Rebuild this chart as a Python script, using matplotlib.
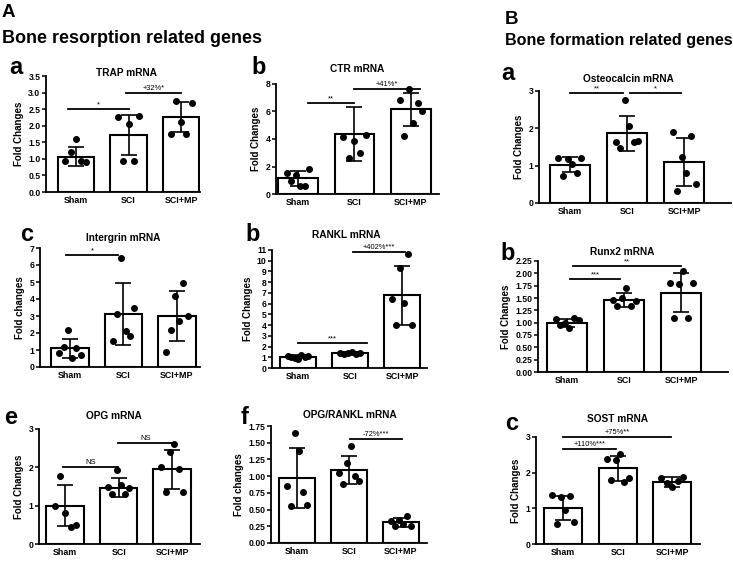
import matplotlib.pyplot as plt
import numpy as np

plt.rcParams['font.family'] = ['Liberation Sans', 'DejaVu Sans']

groups = ["Sham", "SCI", "SCI+MP"]

# ---- data (mean, SD, individual points) ----
trap_mean = [1.07, 1.72, 2.27]
trap_sd = [0.29, 0.61, 0.46]
trap_pts = [[0.93, 1.2, 1.6, 0.95, 0.92],
            [2.25, 0.93, 2.05, 0.93, 2.3],
            [1.75, 2.75, 2.12, 1.75, 2.7]]

ctr_mean = [1.15, 4.35, 6.15]
ctr_sd = [0.55, 1.97, 1.2]
ctr_pts = [[1.52, 0.95, 1.35, 0.55, 0.55, 1.82],
           [4.15, 2.65, 3.85, 2.95, 4.3],
           [6.85, 4.25, 7.6, 5.15, 6.6, 6.05]]

osteo_mean = [1.02, 1.87, 1.1]
osteo_sd = [0.2, 0.47, 0.65]
osteo_pts = [[1.2, 0.73, 1.18, 1.05, 0.8, 1.2],
             [1.63, 1.48, 2.76, 2.05, 1.63, 1.65],
             [1.9, 0.33, 1.22, 0.8, 1.8, 0.5]]

integ_mean = [1.1, 3.12, 3.02]
integ_sd = [0.57, 1.82, 1.47]
integ_pts = [[0.85, 1.2, 2.15, 0.55, 1.1, 0.68],
             [1.55, 3.1, 6.4, 2.1, 1.8, 3.5],
             [0.9, 2.2, 4.15, 2.7, 4.95, 3.0]]

rankl_mean = [1.05, 1.38, 6.8]
rankl_sd = [0.13, 0.1, 2.75]
rankl_pts = [[1.08, 1.05, 0.95, 0.85, 1.2, 1.0, 1.1],
             [1.4, 1.35, 1.38, 1.45, 1.35, 1.4],
             [6.45, 4.0, 9.3, 6.05, 10.6, 4.0]]

runx2_mean = [1.0, 1.46, 1.61]
runx2_sd = [0.08, 0.14, 0.4]
runx2_pts = [[1.08, 0.95, 1.0, 0.9, 1.1, 1.05],
             [1.45, 1.33, 1.5, 1.7, 1.33, 1.43],
             [1.8, 1.1, 1.78, 2.05, 1.1, 1.8]]

opg_mean = [1.0, 1.47, 1.95]
opg_sd = [0.53, 0.25, 0.51]
opg_pts = [[0.98, 1.77, 0.8, 0.45, 0.49],
           [1.5, 1.3, 1.93, 1.55, 1.3, 1.45],
           [2.02, 1.35, 2.4, 2.6, 1.95, 1.35]]

ratio_mean = [0.97, 1.09, 0.31]
ratio_sd = [0.45, 0.21, 0.07]
ratio_pts = [[0.85, 0.55, 1.65, 1.38, 0.77, 0.57],
             [1.05, 0.88, 1.2, 1.45, 1.0, 0.93],
             [0.33, 0.25, 0.35, 0.28, 0.4, 0.25]]

sost_mean = [1.01, 2.12, 1.75]
sost_sd = [0.33, 0.34, 0.14]
sost_pts = [[1.36, 0.55, 1.33, 0.95, 1.34, 0.62],
            [2.38, 1.8, 2.35, 2.53, 1.75, 1.85],
            [1.85, 1.7, 1.6, 1.78, 1.88]]

# significance bars: (x start, x end, y, label)
trap_sig = [(-0.15, 1.0, 2.5, "*"), (0.95, 2.0, 3.0, "+32%*")]
ctr_sig = [(0.18, 1.0, 6.6, "**"), (0.99, 2.16, 7.65, "+41%*")]
osteo_sig = [(0.0, 0.93, 2.94, "**"), (1.05, 1.95, 2.94, "*")]
integ_sig = [(-0.07, 0.9, 6.6, "*")]
rankl_sig = [(0.0, 1.33, 2.3, "***"), (1.06, 2.06, 10.85, "+402%***")]
runx2_sig = [(0.05, 0.93, 1.88, "***"), (0.1, 2.0, 2.15, "**")]
opg_sig = [(-0.04, 0.99, 2.0, "NS"), (0.99, 2.01, 2.63, "NS")]
ratio_sig = [(1.02, 2.02, 1.56, "-72%***")]
sost_sig = [(0.0, 0.97, 2.66, "+110%***"), (0.0, 1.97, 3.0, "+75%**")]

W, H = 733, 566
fig = plt.figure(figsize=(W / 100, H / 100), dpi=100)


def px(x, y):
    return x / W, 1 - y / H


def panel(rect, xlim, title, tpos, letter, lpos, mean, sd, pts, sig,
          yticks, yfmt, ylabel="Fold Changes"):
    l, t, r, b = rect
    ax = fig.add_axes([l / W, 1 - b / H, (r - l) / W, (b - t) / H])
    x = np.arange(len(groups))
    ax.bar(x, mean, width=0.7, color='white', edgecolor='black',
           linewidth=1.5, zorder=2)
    ax.errorbar(x, mean, yerr=sd, fmt='none', ecolor='black', elinewidth=1.2,
                capsize=5.5, capthick=1.2, zorder=3)
    for i, p in enumerate(pts):
        off = np.linspace(-0.2, 0.2, len(p))
        ax.plot(i + off, p, 'o', color='black', ms=4, zorder=4,
                clip_on=False)
    for x1, x2, y, s in sig:
        ax.plot([x1, x2], [y, y], color='black', lw=1.3, clip_on=False,
                zorder=5)
        ax.annotate(s, xy=((x1 + x2) / 2, y), xytext=(0, 0.6),
                    textcoords='offset points', ha='center', va='bottom',
                    fontsize=5.4, annotation_clip=False)
    ax.set_xlim(*xlim)
    ax.set_ylim(yticks[0], yticks[-1])
    ax.set_yticks(yticks)
    ax.set_yticklabels([yfmt.format(v) for v in yticks])
    ax.set_xticks(x)
    ax.set_xticklabels(groups)
    for side in ('top', 'right'):
        ax.spines[side].set_visible(False)
    for side in ('left', 'bottom'):
        ax.spines[side].set_linewidth(1.3)
    ax.tick_params(axis='y', length=3, width=1.1, pad=1, labelsize=6.2)
    ax.tick_params(axis='x', length=0, pad=3, labelsize=6.4)
    for lab in ax.get_xticklabels() + ax.get_yticklabels():
        lab.set_fontweight('bold')
    ax.set_ylabel(ylabel, fontsize=7, fontweight='bold', labelpad=3)
    fig.text(*px(*tpos), title, ha='center', va='center', fontsize=7.3,
             fontweight='bold')
    fig.text(*px(*lpos), letter, ha='center', va='center', fontsize=17,
             fontweight='bold')
    return ax


panel((46, 76, 200, 192), (-0.57, 2.36), "TRAP mRNA", (127, 73), "a", (16, 67),
      trap_mean, trap_sd, trap_pts, trap_sig, np.arange(0, 3.51, 0.5), "{:.1f}")
panel((276, 84, 439, 194), (-0.39, 2.5), "CTR mRNA", (357, 69), "b", (259, 67),
      ctr_mean, ctr_sd, ctr_pts, ctr_sig, np.arange(0, 9, 2), "{:.0f}")
panel((539, 91, 731, 203), (-0.54, 2.82), "Osteocalcin mRNA", (628, 79), "a", (508, 74),
      osteo_mean, osteo_sd, osteo_pts, osteo_sig, np.arange(0, 4, 1), "{:.0f}")
panel((40, 248, 200, 367), (-0.56, 2.43), "Intergrin mRNA", (123, 238), "c", (27, 234),
      integ_mean, integ_sd, integ_pts, integ_sig, np.arange(0, 8, 1), "{:.0f}",
      ylabel="Fold changes")
panel((272, 250, 427, 368), (-0.5, 2.48), "RANKL mRNA", (346, 235), "b", (253, 234),
      rankl_mean, rankl_sd, rankl_pts, rankl_sig, np.arange(0, 12, 1), "{:.0f}")
panel((538, 261, 728, 372), (-0.51, 2.82), "Runx2 mRNA", (622, 252), "b", (508, 253),
      runx2_mean, runx2_sd, runx2_pts, runx2_sig, np.arange(0, 2.26, 0.25), "{:.2f}")
panel((39, 429, 200, 544), (-0.49, 2.52), "OPG mRNA", (114, 416), "e", (11, 417),
      opg_mean, opg_sd, opg_pts, opg_sig, np.arange(0, 4, 1), "{:.0f}")
panel((271, 426, 427, 543), (-0.5, 2.5), "OPG/RANKL mRNA", (350, 415), "f", (245, 418),
      ratio_mean, ratio_sd, ratio_pts, ratio_sig, np.arange(0, 1.76, 0.25), "{:.2f}",
      ylabel="Fold changes")
panel((536, 437, 700, 544), (-0.5, 2.51), "SOST mRNA", (618, 419), "c", (512, 423),
      sost_mean, sost_sd, sost_pts, sost_sig, np.arange(0, 4, 1), "{:.0f}")

# section headers
fig.text(*px(2, 17), "A", fontsize=13.5, fontweight='bold', va='baseline')
fig.text(*px(2, 43), "Bone resorption related genes", fontsize=13,
         fontweight='bold', va='baseline')
fig.text(*px(505, 24), "B", fontsize=13.5, fontweight='bold', va='baseline')
fig.text(*px(505, 45), "Bone formation related genes", fontsize=11.6,
         fontweight='bold', va='baseline')

fig.savefig("out.png", dpi=100)
